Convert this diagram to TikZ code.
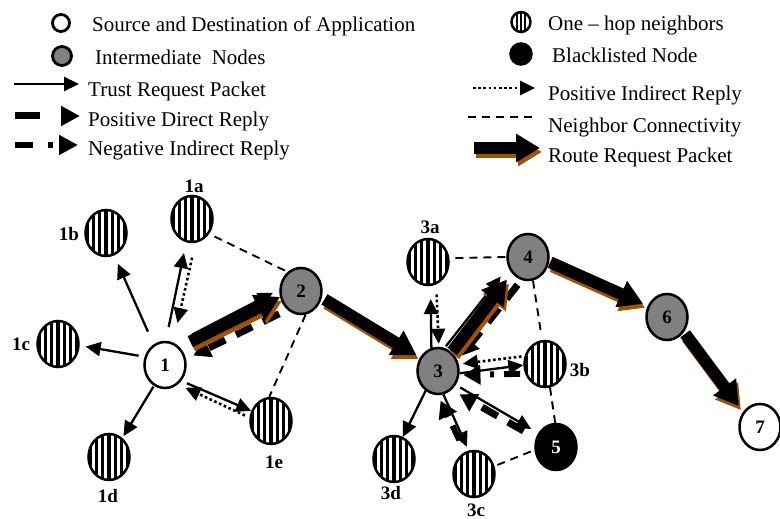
\documentclass[tikz,border=0pt]{standalone}
\usepackage{fontspec}
\setmainfont{Liberation Serif}
\usetikzlibrary{arrows.meta,shapes.geometric}
\definecolor{midgray}{RGB}{128,128,128}
\definecolor{routebrown}{RGB}{160,82,0}
\newcommand{\legfont}{\fontsize{21}{25}\selectfont}
\newcommand{\numfont}{\bfseries\fontsize{19}{22}\selectfont}

\begin{document}
\begin{tikzpicture}[x=1pt,y=-1pt,
  src node/.style={ellipse,draw,line width=2.5pt,fill=white,minimum width=41pt,
    minimum height=46pt,inner sep=0pt,font=\numfont},
  mid node/.style={src node,fill=midgray},
  bad node/.style={src node,fill=black,text=white},
  hop node/.style={src node,path picture={
    \foreach \dx in {-18.6,-12.4,-6.2,0,6.2,12.4,18.6}
      \draw[line width=3.3pt] ([xshift=\dx pt]path picture bounding box.north)
        -- ([xshift=\dx pt]path picture bounding box.south);}},
  hop icon/.style={src node,minimum width=19pt,minimum height=20pt,line width=2.5pt,
    path picture={
    \foreach \dx in {-4,0,4}
      \draw[line width=2.5pt] ([xshift=\dx pt]path picture bounding box.north)
        -- ([xshift=\dx pt]path picture bounding box.south);}},
  lbl/.style={font=\numfont,inner sep=0pt},
  leg text/.style={anchor=base west,inner sep=0pt,font=\legfont},
  trust/.style={line width=2.3pt,-{Triangle[length=15pt,width=14pt]}},
  pos ind/.style={line width=2.6pt,dash pattern=on 2.6pt off 2.6pt,-{Triangle[length=15pt,width=14pt]}},
  pos dir/.style={line width=7pt,dash pattern=on 18pt off 12pt,-{Triangle[length=17pt,width=19pt]}},
  neg ind/.style={line width=6pt,dash pattern=on 16pt off 10pt on 4pt off 10pt,
    -{Triangle[length=17pt,width=19pt]}},
  conn/.style={line width=1.9pt,dash pattern=on 8pt off 6pt},
  route/.style={line width=12pt,-{Triangle[length=24pt,width=27pt]}}]
  \useasboundingbox (0,0) rectangle (780,519);

  % legend
  \node[src node,minimum width=17pt,minimum height=17pt,line width=2.8pt] (ksrc) at (61,23) {};
  \node[mid node,minimum width=19pt,minimum height=19pt,line width=2.8pt] (kmid) at (62,56) {};
  \node[hop icon]                                                         (khop) at (521,22) {};
  \node[bad node,minimum width=21pt,minimum height=21pt]                  (kbad) at (521,54) {};
  \node[leg text] (tsrc)  at (92,32)   {Source and Destination of Application};
  \node[leg text] (tmid)  at (95,65)   {Intermediate\ \ Nodes};
  \node[leg text] (ttr)   at (88,96)   {Trust Request Packet};
  \node[leg text] (tpd)   at (88,126)  {Positive Direct Reply};
  \node[leg text] (tni)   at (88,155)  {Negative Indirect Reply};
  \node[leg text] (thop)  at (548,31)  {One -- hop neighbors};
  \node[leg text] (tbad)  at (552,63)  {Blacklisted Node};
  \node[leg text] (tpi)   at (548,101) {Positive Indirect Reply};
  \node[leg text] (tnc)   at (548,132) {Neighbor Connectivity};
  \node[leg text] (trr)   at (548,162) {Route Request Packet};
  \coordinate (ktr0) at (14,84);   \coordinate (ktr1) at (79,84);
  \coordinate (kpd0) at (15,116);  \coordinate (kpd1) at (80,116);
  \coordinate (kni0) at (15,145);  \coordinate (kni1) at (78,145);
  \coordinate (kpi0) at (473,88);  \coordinate (kpi1) at (535,88);
  \coordinate (knc0) at (468,117); \coordinate (knc1) at (532,117);
  \coordinate (krr0) at (474,148); \coordinate (krr1) at (540,148);
  \draw[trust] (ktr0) -- (ktr1);
  \draw[pos dir,dash pattern=on 25pt off 30pt,-{Triangle[length=19pt,width=19pt]}] (kpd0) -- (kpd1);
  \draw[neg ind,dash pattern=on 18pt off 15pt on 5pt off 30pt,-{Triangle[length=19pt,width=19pt]}] (kni0) -- (kni1);
  \draw[pos ind] (kpi0) -- (kpi1);
  \draw[conn] (knc0) -- (knc1);
  \draw[route,routebrown,transform canvas={xshift=2pt,yshift=-4pt}] (krr0) -- (krr1);
  \draw[route] (krr0) -- (krr1);

  % nodes
  \node[src node] (n1)  at (165,365) {1};
  \node[mid node] (n2)  at (301,291) {2};
  \node[mid node] (n3)  at (438,371) {3};
  \node[mid node] (n4)  at (528,257) {4};
  \node[bad node] (n5)  at (556,447) {5};
  \node[mid node] (n6)  at (667,317) {6};
  \node[src node] (n7)  at (760,427) {7};
  \node[hop node] (n1a) at (192,219) {};
  \node[hop node] (n1b) at (106,233) {};
  \node[hop node] (n1c) at (58,344)  {};
  \node[hop node] (n1d) at (109,457) {};
  \node[hop node] (n1e) at (271,421) {};
  \node[hop node] (n3a) at (428,262) {};
  \node[hop node] (n3b) at (545,364) {};
  \node[hop node] (n3c) at (474,474) {};
  \node[hop node] (n3d) at (394,459) {};
  \node[lbl] at (194,186) {1a};
  \node[lbl] at (69,234)  {1b};
  \node[lbl] at (21,344)  {1c};
  \node[lbl] at (108,496) {1d};
  \node[lbl] at (274,462) {1e};
  \node[lbl] at (430,227) {3a};
  \node[lbl] at (580,370) {3b};
  \node[lbl] at (476,510) {3c};
  \node[lbl] at (391,493) {3d};

  % neighbor connectivity
  \foreach \a/\b/\s/\t in {n1a.319/n2.125/6/2, n2.281/n1e.94/0/0, n3a.10/n4.180/6/0,
      n4.282/n3b.97/0/8, n3b.282/n5.92/0/0, n3c.21/n5.188/3/0}
    \draw[conn,shorten <=\s pt,shorten >=\t pt] (\a) -- (\b);
  % trust requests
  \foreach \a/\b/\s/\t in {n1.119/n1b.290/14/9, n1.88/n1a.256/14/11, n1.158/n1c.356/6/6,
      n1.242/n1d.55/1/2, n1.316/n1e.153/6/0, n1.65/n2.176/19/7,
      n3.106/n3a.276/0/13, n3.74/n4.207/2/12, n3.354/n3b.183/0/0,
      n3.322/n5.142/5/8, n3.283/n3c.103/0/4, n3.238/n3d.68/0/0}
    \draw[trust,shorten <=\s pt,shorten >=\t pt] (\a) -- (\b);
  % replies
  \foreach \a/\b/\s/\t in {n1a.278/n1.70/15/20, n1e.171/n1.304/5/8,
      n3a.290/n3.88/10/3, n3b.159/n3.18/3/4}
    \draw[pos ind,shorten <=\s pt,shorten >=\t pt] (\a) -- (\b);
  \foreach \a/\b/\s/\t in {n2.234/n1.16/9/8, n4.254/n3.28/6/6, n5.156/n3.306/14/9}
    \draw[pos dir,shorten <=\s pt,shorten >=\t pt] (\a) -- (\b);
  \foreach \a/\b/\s/\t in {n3b.206/n3.349/5/4, n3c.112/n3.270/13/6}
    \draw[neg ind,shorten <=\s pt,shorten >=\t pt] (\a) -- (\b);
  % route request
  \foreach \a/\b/\s/\t in {n1.51/n2.196/12/0, n2.342/n3.143/3/4, n3.54/n4.225/1/8,
      n4.347/n6.150/1/5, n6.318/n7.138/2/7} {
    \draw[route,routebrown,transform canvas={xshift=2pt,yshift=-4pt},
      shorten <=\s pt,shorten >=\t pt] (\a) -- (\b);
    \draw[route,shorten <=\s pt,shorten >=\t pt] (\a) -- (\b);
  }
\end{tikzpicture}
\end{document}
